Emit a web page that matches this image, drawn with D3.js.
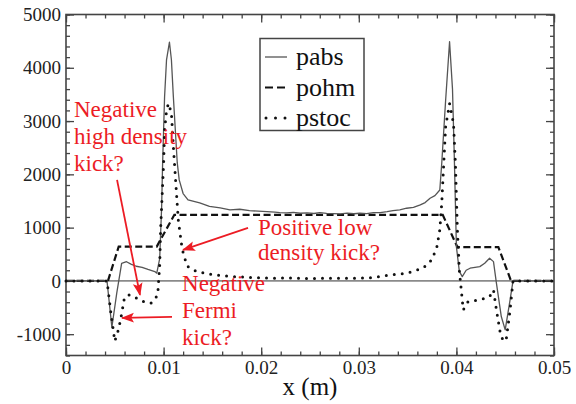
<!DOCTYPE html>
<html>
<head>
<meta charset="utf-8">
<script src="https://cdn.jsdelivr.net/npm/d3@7"></script>
<style>
  html, body { margin: 0; padding: 0; background: #fff; }
  svg { display: block; }
</style>
</head>
<body>
<svg id="chart" width="576" height="404"></svg>
<script>
// data (x in metres, power in W/m^3)
const pabsX = [0, 0.0042, 0.0047, 0.0052, 0.0057, 0.0062, 0.0067, 0.0072, 0.0078, 0.0084, 0.0091, 0.0093, 0.0096,
  0.0098, 0.0099, 0.0101, 0.0103, 0.0106, 0.0108, 0.0110, 0.0114, 0.0116, 0.0120, 0.0125, 0.0137,
  0.0147, 0.0158, 0.0168, 0.0178, 0.0188, 0.0197, 0.0206, 0.0214, 0.0219, 0.0226, 0.0233, 0.0240,
  0.0247, 0.0254, 0.0260, 0.0267, 0.0274, 0.0281, 0.0288, 0.0295, 0.0301, 0.0308, 0.0315, 0.0322,
  0.0329, 0.0335, 0.0342, 0.0349, 0.0356, 0.0363, 0.0368, 0.0373, 0.0378, 0.0383, 0.0385, 0.0389,
  0.0393, 0.0396, 0.0398, 0.0400, 0.0403, 0.0406, 0.0410, 0.0414, 0.0419, 0.0424, 0.0429, 0.0434,
  0.0438, 0.0441, 0.0446, 0.0450, 0.0455, 0.0458, 0.05];
const pabsY = [0, 0, -870, -230, 330, 360, 310, 275, 255, 215, 175, 145, 420,
  1394, 2214, 3458, 4150, 4480, 4150, 3458, 2214, 1895, 1640, 1520, 1463,
  1400, 1370, 1335, 1345, 1319, 1310, 1300, 1290, 1282, 1275, 1285, 1270,
  1278, 1265, 1282, 1268, 1262, 1257, 1272, 1260, 1270, 1262, 1280, 1282,
  1300, 1319, 1335, 1364, 1380, 1426, 1470, 1551, 1600, 1707, 2214, 3400,
  4490, 3600, 2214, 643, 180, 81, 200, 238, 255, 268, 330, 425,
  362, -40, -669, -919, -356, 0, 0];

const pohmX = [0, 0.0043, 0.0054, 0.0093, 0.0111, 0.0386, 0.0401, 0.0443, 0.0456, 0.05];
const pohmY = [0, 0, 645, 645, 1240, 1240, 635, 635, 0, 0];

const pstocX = [0, 0.0042, 0.0046, 0.0050, 0.0054, 0.0057, 0.0060, 0.0065, 0.0070, 0.0076, 0.0082,
  0.0087, 0.0091, 0.0094, 0.0096, 0.0097, 0.0098, 0.0100, 0.0101, 0.0103, 0.0105, 0.0108, 0.0110,
  0.0113, 0.0115, 0.0119, 0.0124, 0.0134, 0.0151, 0.0171, 0.0190, 0.0210, 0.0230, 0.0250, 0.0270,
  0.0290, 0.0310, 0.0332, 0.0349, 0.0366, 0.0375, 0.0380, 0.0383, 0.0385, 0.0387, 0.0389, 0.0393,
  0.0397, 0.0399, 0.0401, 0.0403, 0.0407, 0.0412, 0.0424, 0.0434, 0.0438, 0.0441, 0.0445, 0.0448,
  0.0451, 0.0455, 0.0458, 0.05];
const pstocY = [0, 0, -600, -1130, -900, -620, -300, -260, -300, -360, -410,
  -420, -350, -250, 300, 1000, 1400, 2200, 2830, 3200, 3330, 3150, 2520,
  1700, 1150, 600, 280, 175, 113, 81, 65, 50, 55, 45, 52,
  48, 55, 110, 145, 240, 400, 640, 960, 1460, 2200, 2900, 3330,
  2960, 2200, 960, 200, -544, -388, -356, -294, -169, -544, -981, -1130,
  -1107, -544, 0, 0];

const xTicks = [0, 0.01, 0.02, 0.03, 0.04, 0.05];
const xTickLabels = ['0', '0.01', '0.02', '0.03', '0.04', '0.05'];
const yTicks = [-1000, 0, 1000, 2000, 3000, 4000, 5000];
const yTickLabels = ['-1000', '0', '1000', '2000', '3000', '4000', '5000'];
const seriesNames = ['pabs', 'pohm', 'pstoc'];

const notes = [
  { lines: ['Negative', 'high density', 'kick?'], x: 0.00082, y: 3077, lh: 27,
    from: [0.00523, 1895], to: [0.00758, -263] },
  { lines: ['Positive low', 'density kick?'], x: 0.01967, y: 863, lh: 25.5,
    from: [0.01865, 994], to: [0.01199, 582] },
  { lines: ['Negative', 'Fermi', 'kick?'], x: 0.01189, y: -197, lh: 27,
    from: [0.01086, -675], to: [0.00574, -694] }
];

const FONT = '"Liberation Serif", "Times New Roman", Times, "DejaVu Serif", serif';

const svg = d3.select('#chart').style('font-family', FONT);
const L = 66, R = 554, T = 14.5, B = 355.5;

const x = d3.scaleLinear().domain([0, 0.05]).range([L, R]);
const y = d3.scaleLinear().domain([-1400, 5000]).range([B, T]);

const RED = '#ec1c24';

svg.append('defs').append('marker')
    .attr('id', 'arrow')
    .attr('viewBox', '0 -5 12 10')
    .attr('refX', 11).attr('refY', 0)
    .attr('markerUnits', 'userSpaceOnUse')
    .attr('markerWidth', 13).attr('markerHeight', 11)
    .attr('orient', 'auto')
  .append('path')
    .attr('d', 'M0,-4.5L12,0L0,4.5L2.5,0Z')
    .attr('fill', RED);

// zero line
svg.append('line')
    .attr('x1', L).attr('x2', R)
    .attr('y1', y(0)).attr('y2', y(0))
    .attr('stroke', '#8a8a8a').attr('stroke-width', 1.6);

// ticks: inward, mirrored on all sides
const minorX = d3.range(0, 0.0501, 0.002);
const minorY = d3.range(-1400, 5001, 200);

function tickAxis(axisFn, scale, vals, size, labels) {
  const a = axisFn(scale).tickValues(vals).tickSize(-size).tickSizeOuter(0).tickPadding(5);
  a.tickFormat(labels ? (d, i) => labels[i] : () => '');
  return a;
}

const axes = [
  [d3.axisBottom, x, `translate(0,${B})`, minorX, xTicks, xTickLabels],
  [d3.axisTop, x, `translate(0,${T})`, minorX, xTicks, null],
  [d3.axisLeft, y, `translate(${L},0)`, minorY, yTicks, yTickLabels],
  [d3.axisRight, y, `translate(${R},0)`, minorY, yTicks, null]
];

axes.forEach(([fn, sc, tr, minors, majors, labels]) => {
  const gm = svg.append('g').attr('transform', tr).call(tickAxis(fn, sc, minors, 4, null));
  const gM = svg.append('g').attr('transform', tr).call(tickAxis(fn, sc, majors, 8, labels));
  [gm, gM].forEach(g => {
    g.attr('font-family', null);
    g.select('.domain').remove();
    g.selectAll('line').attr('stroke', '#444').attr('stroke-width', 1.3);
  });
  gM.selectAll('text')
      .attr('font-size', 19).attr('fill', '#222')
      .style('font-family', FONT);
});

// frame
svg.append('rect')
    .attr('x', L).attr('y', T)
    .attr('width', R - L).attr('height', B - T)
    .attr('fill', 'none').attr('stroke', '#444').attr('stroke-width', 1.6);

// curves
const line = d3.line().x(d => x(d[0])).y(d => y(d[1]));
const zip = (a, b) => a.map((v, i) => [v, b[i]]);

svg.append('path')
    .attr('d', line(zip(pohmX, pohmY)))
    .attr('fill', 'none').attr('stroke', '#111').attr('stroke-width', 2.2)
    .attr('stroke-dasharray', '7,3.5');

svg.append('path')
    .attr('d', line(zip(pabsX, pabsY)))
    .attr('fill', 'none').attr('stroke', '#555').attr('stroke-width', 1.3)
    .attr('stroke-linejoin', 'round');

svg.append('path')
    .attr('d', line(zip(pstocX, pstocY)))
    .attr('fill', 'none').attr('stroke', '#111').attr('stroke-width', 3)
    .attr('stroke-linecap', 'round')
    .attr('stroke-dasharray', '0,8');

// legend
const lg = svg.append('g');
lg.append('rect')
    .attr('x', 260).attr('y', 38.5).attr('width', 104).attr('height', 92)
    .attr('fill', '#fff').attr('stroke', '#444').attr('stroke-width', 1.5);

const legendStyles = [
  { stroke: '#555', w: 1.3, dash: null, cap: 'butt' },
  { stroke: '#111', w: 2.2, dash: '8,4', cap: 'butt' },
  { stroke: '#111', w: 3, dash: '0,9.5', cap: 'round' }
];
seriesNames.forEach((name, i) => {
  const cy = 57 + i * 30.5;
  const st = legendStyles[i];
  lg.append('line')
      .attr('x1', i === 2 ? 266 : 265).attr('x2', 287)
      .attr('y1', cy).attr('y2', cy)
      .attr('stroke', st.stroke).attr('stroke-width', st.w)
      .attr('stroke-dasharray', st.dash).attr('stroke-linecap', st.cap);
  lg.append('text')
      .attr('x', 296).attr('y', cy + 8)
      .attr('font-size', 26).attr('fill', '#111')
      .style('font-family', FONT)
      .text(name);
});

// x label
svg.append('text')
    .attr('x', (L + R) / 2).attr('y', 395)
    .attr('text-anchor', 'middle')
    .attr('font-size', 25).attr('fill', '#111')
    .style('font-family', FONT)
    .text('x (m)');

// annotations
notes.forEach(n => {
  svg.append('line')
      .attr('x1', x(n.from[0])).attr('y1', y(n.from[1]))
      .attr('x2', x(n.to[0])).attr('y2', y(n.to[1]))
      .attr('stroke', RED).attr('stroke-width', 1.8)
      .attr('marker-end', 'url(#arrow)');
  const t = svg.append('text')
      .attr('x', x(n.x)).attr('y', y(n.y))
      .attr('font-size', 23).attr('fill', RED)
      .style('font-family', FONT);
  n.lines.forEach((s, i) => {
    t.append('tspan').attr('x', x(n.x)).attr('dy', i ? n.lh : 0).text(s);
  });
});
</script>
</body>
</html>
